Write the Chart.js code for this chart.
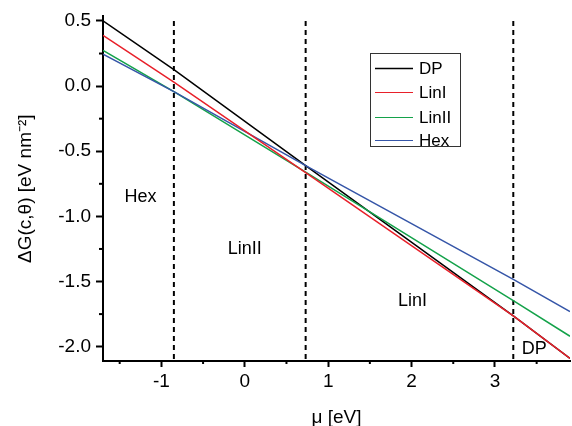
<!DOCTYPE html>
<html>
<head>
<meta charset="utf-8">
<script src="https://cdn.jsdelivr.net/npm/chart.js@4.4.1/dist/chart.umd.min.js"></script>
<style>
  html, body { margin: 0; padding: 0; background: #fff; }
  #wrap { width: 572px; height: 426px; }
</style>
</head>
<body>
<div id="wrap"><canvas id="phaseChart" width="572" height="426"></canvas></div>
<script>
const muPoints = [-1.7, -0.85, 0.73, 3.22, 3.9];

const dpValues = [0.5, 0.127, -0.61, -1.763, -2.09];
const linIValues = [0.39, 0.03, -0.665, -1.763, -2.09];
const linIIValues = [0.275, -0.043, -0.66, -1.646, -1.92];
const hexValues = [0.245, -0.043, -0.61, -1.483, -1.73];

// phase boundaries (dashed lines)
const boundaries = [-0.85, 0.73, 3.22];
const regionNames = ["Hex", "LinII", "LinI", "DP"];

const seriesNames = ["DP", "LinI", "LinII", "Hex"];
const seriesColors = ["#000000", "#e8202a", "#14a24a", "#3656a8"];

const FONT = "'Liberation Sans', Arial, sans-serif";

function pts(xs, ys) {
  return xs.map((x, i) => ({ x: x, y: ys[i] }));
}

let datasets = [];
let allSeries = [dpValues, linIValues, linIIValues, hexValues];
let drawOrder = [4, 1, 3, 2];
allSeries.forEach((vals, i) => {
  datasets.push({
    label: seriesNames[i],
    data: pts(muPoints, vals),
    borderColor: seriesColors[i],
    borderWidth: 1.5,
    pointRadius: 0,
    showLine: true,
    fill: false,
    order: drawOrder[i],
  });
});

boundaries.forEach((b) => {
  datasets.push({
    label: "",
    data: [{ x: b, y: 0.5 }, { x: b, y: -2.11 }],
    borderColor: "#000",
    borderWidth: 2,
    borderDash: [5, 4],
    pointRadius: 0,
    showLine: true,
    fill: false,
    order: 10,
  });
});

function isMajor(v, step) {
  return Math.abs(v / step - Math.round(v / step)) < 1e-6;
}

// minor ticks (shorter) drawn on the axes
const minorTicks = {
  id: "minorTicks",
  afterDraw(chart) {
    let ctx = chart.ctx;
    let xs = chart.scales.x;
    let ys = chart.scales.y;
    ctx.save();
    ctx.strokeStyle = "#000";
    ctx.lineWidth = 2;
    xs.ticks.forEach((t) => {
      if (isMajor(t.value, 1)) return;
      let px = xs.getPixelForValue(t.value);
      ctx.beginPath();
      ctx.moveTo(px, xs.top);
      ctx.lineTo(px, xs.top + 3);
      ctx.stroke();
    });
    ys.ticks.forEach((t) => {
      if (isMajor(t.value, 0.5)) return;
      let py = ys.getPixelForValue(t.value);
      ctx.beginPath();
      ctx.moveTo(ys.right, py);
      ctx.lineTo(ys.right - 4, py);
      ctx.stroke();
    });
    ctx.restore();
  },
};

// region names and the legend box
const annotations = {
  id: "annotations",
  afterDraw(chart) {
    let ctx = chart.ctx;
    let xs = chart.scales.x;
    let ys = chart.scales.y;
    let spots = [[-1.25, -0.855], [0.0, -1.25], [2.01, -1.65], [3.47, -2.02]];
    ctx.save();
    ctx.fillStyle = "#000";
    ctx.font = "18px " + FONT;
    ctx.textAlign = "center";
    ctx.textBaseline = "middle";
    regionNames.forEach((name, i) => {
      ctx.fillText(name, xs.getPixelForValue(spots[i][0]), ys.getPixelForValue(spots[i][1]));
    });

    // legend
    ctx.strokeStyle = "#333";
    ctx.lineWidth = 1;
    ctx.strokeRect(370.5, 53.5, 90, 93);
    ctx.font = "17px " + FONT;
    ctx.textAlign = "left";
    let rows = [68, 92, 117, 140];
    seriesNames.forEach((name, i) => {
      ctx.strokeStyle = seriesColors[i];
      ctx.lineWidth = i == 0 ? 1.5 : 1;
      ctx.beginPath();
      ctx.moveTo(375, rows[i] + 0.5);
      ctx.lineTo(413, rows[i] + 0.5);
      ctx.stroke();
      ctx.fillStyle = "#000";
      ctx.fillText(name, 419, rows[i] + 1);
    });
    ctx.restore();
  },
};

new Chart(document.getElementById("phaseChart"), {
  type: "scatter",
  data: { datasets: datasets },
  options: {
    responsive: false,
    animation: false,
    events: [],
    layout: { padding: { left: 0, top: 15, right: 2, bottom: 0 } },
    plugins: {
      legend: { display: false },
      tooltip: { enabled: false },
    },
    scales: {
      x: {
        type: "linear",
        min: -1.7,
        max: 3.9,
        afterFit: (s) => { s.height = 65; },
        ticks: {
          stepSize: 0.5,
          includeBounds: false,
          autoSkip: false,
          maxRotation: 0,
          padding: 3,
          color: "#000",
          font: { family: FONT, size: 19 },
          callback: (v) => (isMajor(v, 1) ? String(Math.round(v)) : ""),
        },
        grid: {
          drawOnChartArea: false,
          drawTicks: true,
          tickLength: 6,
          tickWidth: 2,
          tickColor: (c) => (c.tick && isMajor(c.tick.value, 1) ? "#000" : "rgba(0,0,0,0)"),
        },
        border: { display: true, color: "#000", width: 2 },
        title: {
          display: true,
          text: "μ [eV]",
          color: "#000",
          font: { family: FONT, size: 19 },
          padding: { top: 0, bottom: -3 },
        },
      },
      y: {
        type: "linear",
        min: -2.11,
        max: 0.535,
        afterFit: (s) => { s.width = 103; },
        ticks: {
          stepSize: 0.25,
          includeBounds: false,
          autoSkip: false,
          padding: 5,
          color: "#000",
          font: { family: FONT, size: 19 },
          callback: (v) => (isMajor(v, 0.5) ? v.toFixed(1) : ""),
        },
        grid: {
          drawOnChartArea: false,
          drawTicks: true,
          tickLength: 7,
          tickWidth: 2,
          tickColor: (c) => (c.tick && isMajor(c.tick.value, 0.5) ? "#000" : "rgba(0,0,0,0)"),
        },
        border: { display: true, color: "#000", width: 2 },
        title: {
          display: true,
          text: "ΔG(c,θ) [eV nm⁻²]",
          color: "#000",
          font: { family: FONT, size: 19 },
          padding: { top: 14, bottom: 0 },
        },
      },
    },
  },
  plugins: [minorTicks, annotations],
});
</script>
</body>
</html>
